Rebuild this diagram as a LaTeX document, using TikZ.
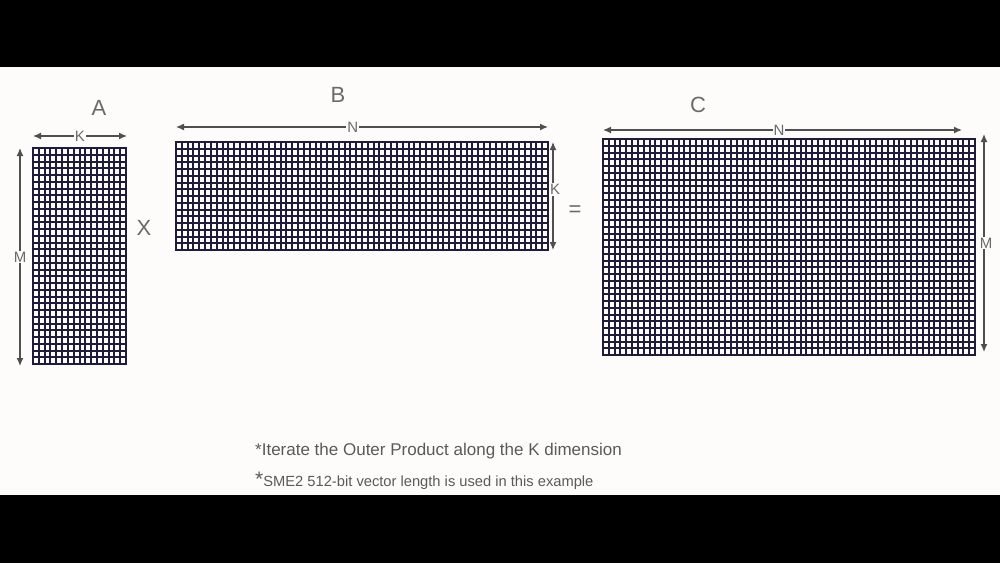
\documentclass[tikz,border=0pt]{standalone}
\usepackage{fontspec}
\setmainfont{Liberation Sans}
\usetikzlibrary{arrows.meta}
\definecolor{bgcol}{HTML}{FDFCFB}
\definecolor{gridcol}{HTML}{1F1C3B}
\definecolor{labelgray}{HTML}{6A6A6A}
\definecolor{dimgray}{HTML}{4F4F4F}
\definecolor{notegray}{HTML}{5A5A5A}
\begin{document}
\begin{tikzpicture}[x=1pt,y=-1pt,
    cellline/.style={draw=gridcol, line width=1.8pt, line cap=rect},
    dimline/.style={draw=dimgray, line width=1.3pt, {Latex[length=8pt,width=7pt]}-{Latex[length=8pt,width=7pt]}},
    dimlabel/.style={fill=bgcol, text=labelgray, font=\fontsize{15}{15}\selectfont, inner sep=1pt},
    matlabel/.style={text=labelgray, font=\fontsize{22}{22}\selectfont, inner sep=0pt}]
  \fill[bgcol] (0,0) rectangle (1000,563);
  \fill[black] (0,0) rectangle (1000,67);
  \fill[black] (0,495) rectangle (1000,563);
  \useasboundingbox (0,0) rectangle (1000,563);
  % matrix A (M x K)
  \begin{scope}[shift={(33,148)}]
    \foreach \i in {0,...,16} \draw[cellline] ({round(\i*5.8125)},0) -- ({round(\i*5.8125)},216);
    \foreach \j in {0,...,32} \draw[cellline] (0,{round(\j*6.75)}) -- (93,{round(\j*6.75)});
  \end{scope}
  % matrix B (K x N)
  \begin{scope}[shift={(176,142)}]
    \foreach \i in {0,...,64} \draw[cellline] ({round(\i*5.8125)},0) -- ({round(\i*5.8125)},108);
    \foreach \j in {0,...,16} \draw[cellline] (0,{round(\j*6.75)}) -- (372,{round(\j*6.75)});
  \end{scope}
  % matrix C (M x N)
  \begin{scope}[shift={(603,139)}]
    \foreach \i in {0,...,64} \draw[cellline] ({round(\i*5.8125)},0) -- ({round(\i*5.8125)},216);
    \foreach \j in {0,...,32} \draw[cellline] (0,{round(\j*6.75)}) -- (372,{round(\j*6.75)});
  \end{scope}
  % names
  \node[matlabel] (labA) at (99,108) {A};
  \node[matlabel] (labB) at (338,95) {B};
  \node[matlabel] (labC) at (698,105) {C};
  \node[matlabel] (times) at (144,228) {X};
  \node[matlabel] (equals) at (575,211) {=};
  % dimension arrows
  \coordinate (AKl) at (33,136);
  \coordinate (AKr) at (127,136);
  \coordinate (AMt) at (20,148);
  \coordinate (AMb) at (20,366);
  \coordinate (BNl) at (176,127);
  \coordinate (BNr) at (548,127);
  \coordinate (BKt) at (553,142);
  \coordinate (BKb) at (553,250);
  \coordinate (CNl) at (603,130);
  \coordinate (CNr) at (962,130);
  \coordinate (CMt) at (984,134);
  \coordinate (CMb) at (984,352);
  \draw[dimline] (AKl) -- node[dimlabel] (kA) {K} (AKr);
  \draw[dimline] (AMt) -- node[dimlabel] (mA) {M} (AMb);
  \draw[dimline] (BNl) -- node[dimlabel, pos=0.475] (nB) {N} (BNr);
  \draw[dimline] (BKt) -- node[dimlabel, pos=0.44, xshift=2pt] (kB) {K} (BKb);
  \draw[dimline] (CNl) -- node[dimlabel, pos=0.49] (nC) {N} (CNr);
  \draw[dimline] (CMt) -- node[dimlabel, xshift=2pt] (mC) {M} (CMb);
  % notes
  \node[anchor=base west, inner sep=0pt, text=notegray, font=\fontsize{17}{17}\selectfont] (note1) at (255,455)
    {*Iterate the Outer Product along the K dimension};
  \node[anchor=base west, inner sep=0pt, text=notegray] (note2) at (255,486)
    {{\fontsize{21}{21}\selectfont *}{\fontsize{14.7}{15}\selectfont SME2 512-bit vector length is used in this example}};
\end{tikzpicture}
\end{document}
